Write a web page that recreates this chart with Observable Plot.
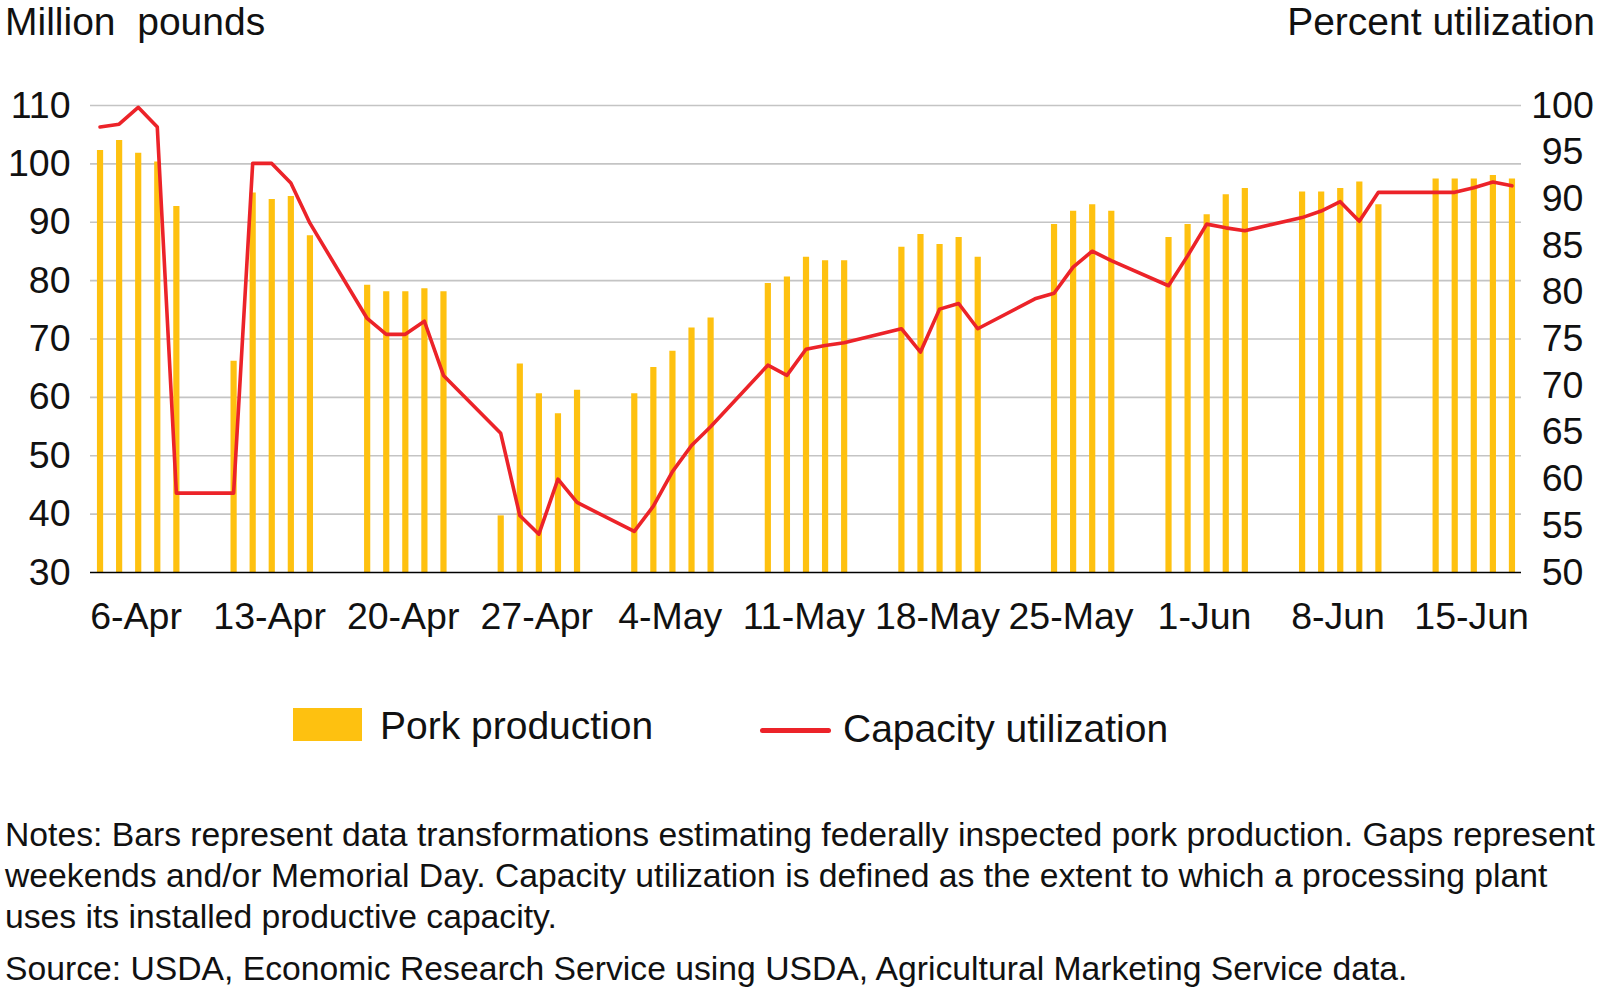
<!DOCTYPE html>
<html>
<head>
<meta charset="utf-8">
<script src="https://cdn.jsdelivr.net/npm/d3@7"></script>
<script src="https://cdn.jsdelivr.net/npm/@observablehq/plot@0.6"></script>
<style>
  html, body { margin: 0; padding: 0; background: #fff; }
  body { font-family: "Liberation Sans", Arial, sans-serif; color: #111; }
  #wrap { position: relative; width: 1601px; height: 994px; overflow: hidden; }
  .abs { position: absolute; white-space: pre; line-height: 1.12; }
  #chart { position: absolute; left: 0; top: 0; }
  .notes { position: absolute; left: 5px; font-size: 33.7px; line-height: 40.8px; white-space: pre; }
</style>
</head>
<body>
<div id="wrap">
  <div id="chart"></div>
  <div class="abs" id="ytitleL" style="left:5px; top:0px; font-size:39px;">Million  pounds</div>
  <div class="abs" id="ytitleR" style="right:6px; top:0px; font-size:39px;">Percent utilization</div>
  <div id="legend"></div>
  <div class="notes" style="top:814px;">Notes: Bars represent data transformations estimating federally inspected pork production. Gaps represent
weekends and/or Memorial Day. Capacity utilization is defined as the extent to which a processing plant
uses its installed productive capacity.</div>
  <div class="notes" style="top:948px;">Source: USDA, Economic Research Service using USDA, Agricultural Marketing Service data.</div>
</div>
<script>
// ---- Data ----
const weekdays = [
  "2020-04-06","2020-04-07","2020-04-08","2020-04-09","2020-04-10",
  "2020-04-13","2020-04-14","2020-04-15","2020-04-16","2020-04-17",
  "2020-04-20","2020-04-21","2020-04-22","2020-04-23","2020-04-24",
  "2020-04-27","2020-04-28","2020-04-29","2020-04-30","2020-05-01",
  "2020-05-04","2020-05-05","2020-05-06","2020-05-07","2020-05-08",
  "2020-05-11","2020-05-12","2020-05-13","2020-05-14","2020-05-15",
  "2020-05-18","2020-05-19","2020-05-20","2020-05-21","2020-05-22",
  "2020-05-25","2020-05-26","2020-05-27","2020-05-28","2020-05-29",
  "2020-06-01","2020-06-02","2020-06-03","2020-06-04","2020-06-05",
  "2020-06-08","2020-06-09","2020-06-10","2020-06-11","2020-06-12",
  "2020-06-15","2020-06-16","2020-06-17","2020-06-18","2020-06-19"
];
// Pork production, million pounds (null = Memorial Day, no bar)
const porkProduction = [
  102.3, 104.0, 101.8, 100.3, 92.7,
  66.2, 95.0, 93.9, 94.4, 87.7,
  79.2, 78.1, 78.1, 78.6, 78.1,
  39.7, 65.7, 60.6, 57.2, 61.2,
  60.6, 65.1, 67.9, 71.9, 73.6,
  79.5, 80.6, 84.0, 83.4, 83.4,
  85.7, 87.9, 86.2, 87.4, 84.0,
  null, 89.6, 91.9, 93.0, 91.9,
  87.4, 89.6, 91.3, 94.7, 95.8,
  95.2, 95.2, 95.8, 96.9, 93.0,
  97.4, 97.4, 97.4, 98.0, 97.4
];
// Capacity utilization, percent
const capacityUtilization = [
  97.7, 98.0, 99.8, 97.7, 58.5,
  58.5, 93.8, 93.8, 91.7, 87.4,
  77.2, 75.5, 75.5, 76.9, 71.1,
  64.9, 56.1, 54.1, 60.0, 57.5,
  54.4, 57.1, 60.8, 63.6, 65.6,
  72.2, 71.1, 73.9, 74.3, 74.6,
  76.1, 73.6, 78.2, 78.8, 76.1,
  79.3, 79.9, 82.7, 84.4, 83.4,
  80.7, 83.9, 87.3, 86.9, 86.6,
  88.0, 88.7, 89.7, 87.6, 90.7,
  90.7, 90.7, 91.2, 91.8, 91.4
];
const xTickDates = ["2020-04-06","2020-04-13","2020-04-20","2020-04-27","2020-05-04","2020-05-11","2020-05-18","2020-05-25","2020-06-01","2020-06-08","2020-06-15"];
const xTickLabels = ["6-Apr","13-Apr","20-Apr","27-Apr","4-May","11-May","18-May","25-May","1-Jun","8-Jun","15-Jun"];
const leftTicks = [30, 40, 50, 60, 70, 80, 90, 100, 110];
const rightTicks = [50, 55, 60, 65, 70, 75, 80, 85, 90, 95, 100];
const seriesNames = ["Pork production", "Capacity utilization"];

// ---- Build tables ----
const leftMin = 30, leftMax = 110, rightMin = 50, rightMax = 100;
const pctToLeft = p => leftMin + (p - rightMin) * (leftMax - leftMin) / (rightMax - rightMin);
const leftToPct = v => rightMin + (v - leftMin) * (rightMax - rightMin) / (leftMax - leftMin);

const bars = weekdays.map((d, i) => ({date: new Date(d), value: porkProduction[i]})).filter(d => d.value != null);
const util = weekdays.map((d, i) => ({date: new Date(d), pct: capacityUtilization[i]}));
const tickDates = xTickDates.map(d => new Date(d));
const tickLabelMap = new Map(tickDates.map((d, i) => [+d, xTickLabels[i]]));

const DAY = 864e5;
const x0 = new Date(+new Date(weekdays[0]) - DAY / 2);
const x1 = new Date(+new Date(weekdays[weekdays.length - 1]) + DAY / 2);

const YELLOW = "#FEC110";
const RED = "#EC2329";

const plot = Plot.plot({
  width: 1601,
  height: 642,
  marginTop: 105,
  marginBottom: 70,
  marginLeft: 90,
  marginRight: 80,
  style: {fontFamily: "'Liberation Sans', Arial, sans-serif", fontSize: "37.5px", color: "#111", background: "transparent", overflow: "visible"},
  x: {type: "utc", domain: [x0, x1]},
  y: {domain: [leftMin, leftMax]},
  marks: [
    Plot.gridY(leftTicks.filter(t => t > leftMin), {stroke: "#c4c4c4", strokeOpacity: 1, strokeWidth: 1.6}),
    Plot.ruleX(bars, {x: "date", y1: leftMin, y2: "value", stroke: YELLOW, strokeWidth: 6.2}),
    Plot.ruleY([leftMin], {stroke: "#000", strokeWidth: 1.6}),
    Plot.line(util, {x: "date", y: d => pctToLeft(d.pct), stroke: RED, strokeWidth: 3.6, strokeLinejoin: "round"}),
    Plot.axisY(leftTicks, {anchor: "left", tickSize: 0, tickPadding: 20, label: null}),
    Plot.axisY(rightTicks.map(pctToLeft), {anchor: "right", tickSize: 0, tickPadding: 41, textAnchor: "middle", label: null,
      tickFormat: v => String(Math.round(leftToPct(v)))}),
    Plot.axisX(tickDates, {anchor: "bottom", tickSize: 0, tickPadding: 30, dx: 36, label: null,
      tickFormat: d => tickLabelMap.get(+d)})
  ]
});
document.getElementById("chart").appendChild(plot);

// ---- Legend ----
const legend = document.getElementById("legend");
legend.innerHTML = `
  <div style="position:absolute; left:293px; top:708px; width:69px; height:33px; background:${YELLOW};"></div>
  <div class="abs" style="left:380px; top:704px; font-size:39px;">${seriesNames[0]}</div>
  <div style="position:absolute; left:760px; top:728px; width:71px; height:5px; border-radius:2.5px; background:${RED};"></div>
  <div class="abs" style="left:843px; top:707px; font-size:39px;">${seriesNames[1]}</div>
`;
</script>
</body>
</html>
